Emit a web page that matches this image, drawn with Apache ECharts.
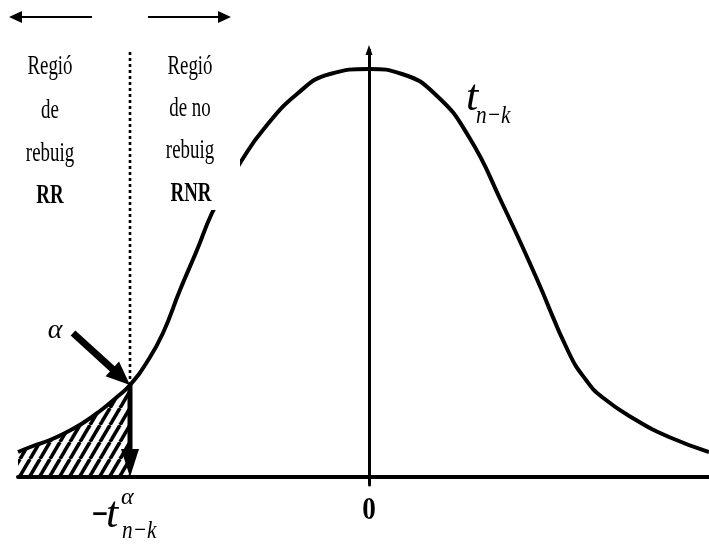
<!DOCTYPE html>
<html>
<head>
<meta charset="utf-8">
<script src="https://cdn.jsdelivr.net/npm/echarts@6/dist/echarts.min.js"></script>
<style>
  html, body { margin: 0; padding: 0; background: #fff; }
  #chart { width: 709px; height: 544px; }
</style>
</head>
<body>
<div id="chart"></div>
<script>
// Density of the t(n-k) statistic, sampled left to right
const tValues = [-3.51, -3.36, -3.19, -3.02, -2.86, -2.69, -2.52, -2.39,
                 -2.22, -2.06, -1.89, -1.72, -1.57, -1.42, -1.27, -1.06,
                 -0.72, -0.39, 0, 0.33, 0.67, 1.00, 1.33, 1.67, 2.00,
                 2.17, 2.33, 2.67, 3.00, 3.40];
const density = [0.025, 0.031, 0.037, 0.045, 0.054, 0.066, 0.080, 0.092,
                 0.115, 0.144, 0.187, 0.227, 0.264, 0.291, 0.317, 0.347,
                 0.383, 0.403, 0.408, 0.403, 0.382, 0.340, 0.274, 0.200, 0.124,
                 0.097, 0.080, 0.057, 0.040, 0.025];

// Critical value -t(alpha, n-k) and the curve height there
const critT = -2.39;
const critDensity = 0.092;
// Upper end of the dotted boundary between the two regions
const boundaryTop = 0.425;
// Tail of the alpha arrow
const alphaArrowFrom = [-2.96, 0.144];

// Axis ranges
const xMin = -3.51, xMax = 3.40;
const yMin = -0.008, yMax = 0.427;

const curve = tValues.map((t, i) => [t, density[i]]);
const tail = curve.filter(p => p[0] <= critT);

// Diagonal hatch used for the rejection region
function hatchPattern() {
  const w = 10, h = 17;
  const c = document.createElement('canvas');
  c.width = w; c.height = h;
  const g = c.getContext('2d');
  g.strokeStyle = '#000';
  g.lineWidth = 3.6;
  for (const dx of [-w, 0, w]) {
    g.beginPath();
    g.moveTo(dx, h);
    g.lineTo(dx + w, 0);
    g.stroke();
  }
  return c;
}

const chart = echarts.init(document.getElementById('chart'), null, { renderer: 'canvas' });

chart.setOption({
  animation: false,
  backgroundColor: '#fff',
  grid: { left: 18, right: 0, top: 50, bottom: 59 },
  xAxis: {
    type: 'value', min: xMin, max: xMax,
    axisLine: { show: true, onZero: true, lineStyle: { color: '#000', width: 4 } },
    axisTick: { show: false }, axisLabel: { show: false }, splitLine: { show: false }
  },
  yAxis: {
    type: 'value', min: yMin, max: yMax,
    axisLine: {
      show: true, onZero: true,
      symbol: ['none', 'triangle'], symbolSize: [7, 10],
      lineStyle: { color: '#000', width: 3 }
    },
    axisTick: { show: false }, axisLabel: { show: false }, splitLine: { show: false }
  },
  series: [
    {
      name: 'RR', type: 'line', data: tail, smooth: 0.5,
      symbol: 'none', z: 1,
      lineStyle: { width: 0 },
      areaStyle: { color: { image: hatchPattern(), repeat: 'repeat' }, opacity: 1 }
    },
    {
      name: 'boundary', type: 'line', data: [[critT, critDensity], [critT, boundaryTop]],
      symbol: 'none', z: 2,
      lineStyle: { color: '#000', width: 2.6, type: [3, 3] }
    },
    {
      name: 't', type: 'line', data: curve, smooth: 0.5,
      symbol: 'none', z: 3,
      lineStyle: { color: '#000', width: 4 }
    }
  ]
});

// ---- annotations ----
const px = p => chart.convertToPixel({ gridIndex: 0 }, p);

function arrow(p0, p1, shaftW, headL, headW) {
  const dx = p1[0] - p0[0], dy = p1[1] - p0[1];
  const L = Math.hypot(dx, dy), ux = dx / L, uy = dy / L;
  const bx = p1[0] - ux * headL, by = p1[1] - uy * headL;
  const nx = -uy, ny = ux;
  return [
    { type: 'line', z: 30,
      shape: { x1: p0[0], y1: p0[1], x2: bx + ux * 2, y2: by + uy * 2 },
      style: { stroke: '#000', lineWidth: shaftW } },
    { type: 'polygon', z: 30,
      shape: { points: [[p1[0], p1[1]],
                        [bx + nx * headW / 2, by + ny * headW / 2],
                        [bx - nx * headW / 2, by - ny * headW / 2]] },
      style: { fill: '#000' } }
  ];
}

function txt(x, y, s, font, sx, align) {
  return {
    type: 'text', x: x, y: y, z: 20, scaleX: sx,
    style: { text: s, x: 0, y: 0, font: font, fill: '#000',
             align: align || 'center', verticalAlign: 'middle',
             textAlign: align || 'center', textVerticalAlign: 'middle' }
  };
}

const serif = '"Liberation Serif", "Times New Roman", serif';
const reg = '27px ' + serif;
const bold = 'bold 27px ' + serif;
const ital = s => 'italic ' + s + 'px ' + serif;
const NARROW = 0.7;

const crit = px([critT, critDensity]);
const critBase = px([critT, 0]);
const alphaFrom = px(alphaArrowFrom);
const zero = px([0, 0]);

const elements = [
  // white backing behind the right-hand label block
  { type: 'rect', z: 10, shape: { x: 140, y: 40, width: 100, height: 170 }, style: { fill: '#fff' } },

  // direction arrows above the two regions
  ...arrow([92, 17], [9, 17], 2, 13, 12),
  ...arrow([148, 17], [231, 17], 2, 13, 12),

  // rejection region label
  txt(50, 67, 'Regió', reg, NARROW),
  txt(50, 111, 'de', reg, NARROW),
  txt(50, 154, 'rebuig', reg, NARROW),
  txt(50, 196, 'RR', bold, NARROW),

  // non-rejection region label
  txt(190, 67, 'Regió', reg, NARROW),
  txt(190, 109, 'de no', reg, NARROW),
  txt(190, 151, 'rebuig', reg, NARROW),
  txt(191, 194, 'RNR', bold, NARROW),

  // distribution name
  txt(466, 98, 't', ital(44), 1, 'left'),
  txt(476, 116, 'n−k', ital(26), 0.82, 'left'),

  // alpha and its arrow to the critical point
  txt(55, 331, 'α', ital(28), 1),
  ...arrow(alphaFrom, crit, 7, 24, 20),
  ...arrow(crit, critBase, 5, 28, 18),

  // tick labels on the horizontal axis
  txt(zero[0], 511, '0', 'bold 32px ' + serif, 0.85),
  txt(crit[0] - 30, 517, '−', 'bold 40px ' + serif, 0.72),
  txt(crit[0] - 24, 515, 't', ital(44), 1, 'left'),
  txt(crit[0] - 9, 498, 'α', ital(24), 1, 'left'),
  txt(crit[0] - 8, 531, 'n−k', ital(26), 0.82, 'left')
];

chart.setOption({ graphic: { elements: elements } });
</script>
</body>
</html>
